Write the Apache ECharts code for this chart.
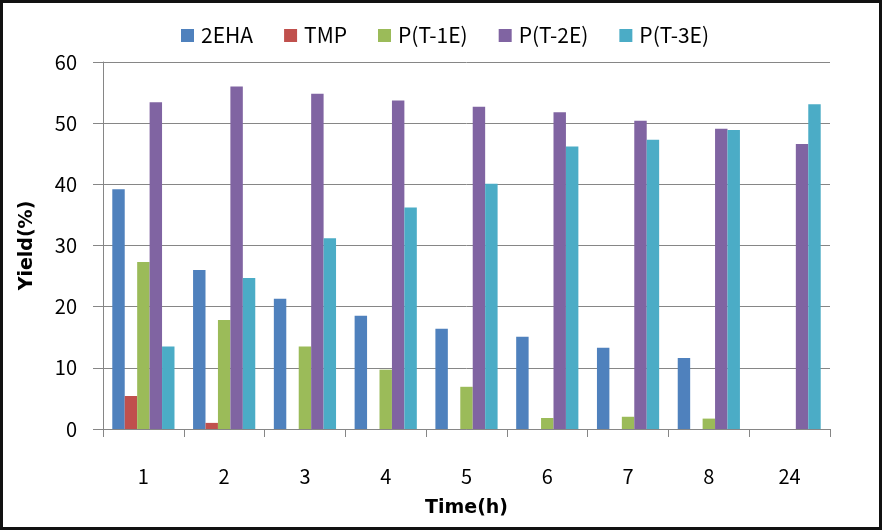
<!DOCTYPE html>
<html><head><meta charset="utf-8">
<script src="https://cdn.jsdelivr.net/npm/echarts@6/dist/echarts.min.js"></script>
<style>html,body{margin:0;padding:0;background:#fff}#c{width:882px;height:530px}</style>
</head><body><div id="c"></div>
<script>
const categories = ['1','2','3','4','5','6','7','8','24'];
const seriesNames = ['2EHA','TMP','P(T-1E)','P(T-2E)','P(T-3E)'];
const v2EHA = [39.2, 26.0, 21.3, 18.5, 16.4, 15.1, 13.3, 11.6, 0];
const vTMP  = [5.4, 1.0, 0, 0, 0, 0, 0, 0, 0];
const vP1E  = [27.3, 17.8, 13.5, 9.7, 6.9, 1.8, 2.0, 1.7, 0];
const vP2E  = [53.4, 56.0, 54.8, 53.7, 52.7, 51.8, 50.4, 49.1, 46.6];
const vP3E  = [13.5, 24.7, 31.2, 36.2, 40.1, 46.2, 47.3, 48.9, 53.1];
const yTicks = [0, 10, 20, 30, 40, 50, 60];
const colors = ['#4F81BD','#C0504D','#9BBB59','#8064A2','#4BACC6'];
const allVals = [v2EHA, vTMP, vP1E, vP2E, vP3E];
const font = '"Noto Sans CJK KR", "Noto Sans", sans-serif';
const boldFont = '"DejaVu Sans", sans-serif';

const chart = echarts.init(document.getElementById('c'));
chart.setOption({
  animation: false,
  color: colors,
  textStyle: {fontFamily: font},
  graphic: [{type:'rect', shape:{x:1.5,y:1.5,width:879,height:527}, style:{fill:'none', stroke:'#111', lineWidth:3}}],
  legend: {
    top: 20, left: 176,
    itemWidth: 13, itemHeight: 13, itemGap: 31,
    icon: 'rect',
    textStyle: {fontSize: 21, color: '#000', fontFamily: font, padding: [0,0,0,2]},
    data: seriesNames
  },
  grid: {left: 103, right: 52, top: 62, bottom: 101},
  xAxis: {
    type: 'category', data: categories,
    axisLine: {lineStyle: {color: '#868686'}},
    axisTick: {show: true, length: 8, lineStyle: {color: '#868686'}},
    axisLabel: {fontSize: 20, color: '#000', margin: 37, fontFamily: font},
    name: 'Time(h)', nameLocation: 'middle', nameGap: 70,
    nameTextStyle: {fontSize: 19, fontWeight: 'bold', color: '#000', fontFamily: boldFont}
  },
  yAxis: {
    type: 'value', min: yTicks[0], max: yTicks[yTicks.length-1], interval: 10,
    axisLine: {show: true, lineStyle: {color: '#868686'}},
    axisTick: {show: true, length: 10, lineStyle: {color: '#868686'}},
    splitLine: {lineStyle: {color: '#868686'}},
    axisLabel: {fontSize: 20, color: '#000', margin: 26, fontFamily: font},
    name: 'Yield(%)', nameLocation: 'middle', nameGap: 66, nameRotate: 90,
    nameTextStyle: {fontSize: 19, fontWeight: 'bold', color: '#000', fontFamily: boldFont}
  },
  series: seriesNames.map((n, i) => ({
    name: n, type: 'bar', data: allVals[i],
    barGap: '0%', barCategoryGap: '23%',
    itemStyle: {color: colors[i]}
  }))
});
</script></body></html>
